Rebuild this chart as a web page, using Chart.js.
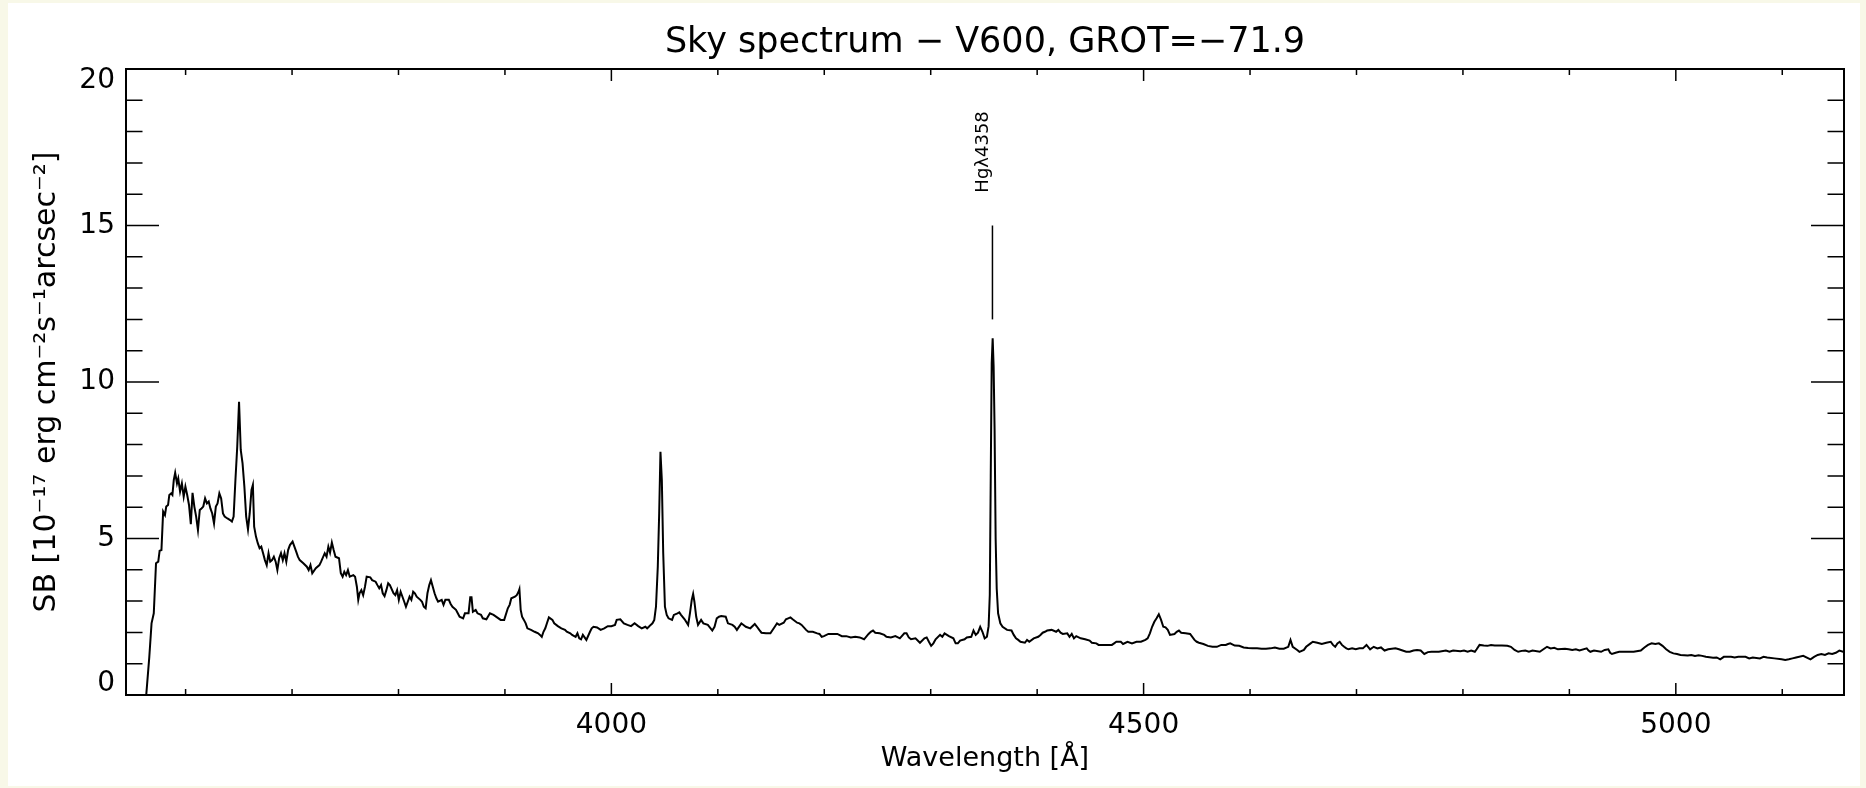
<!DOCTYPE html>
<html><head><meta charset="utf-8">
<script src="https://cdn.jsdelivr.net/npm/chart.js@4.4.1/dist/chart.umd.min.js"></script>
<style>html,body{margin:0;padding:0;background:#f8f8e8;overflow:hidden}canvas{display:block}</style>
</head><body>
<canvas id="c" width="1866" height="788"></canvas>
<script>
// ---- data ----
const wavelength = [
3560,3563.0,3565.9,3568.0,3570.1,3572.2,3574.3,3575.6,3577.3,3578.9,
3580.6,3581.8,3583.5,3584.7,3586.4,3587.6,3588.9,3590.2,3591.9,3593.1,
3594.8,3596.5,3598.2,3599.8,3601.5,3603.2,3604.9,3606.5,3608.2,3609.9,
3611.6,3613.3,3614.9,3616.6,3618.3,3620.0,3621.7,3623.3,3625.0,3626.7,
3628.4,3630.0,3631.7,3633.4,3635.1,3636.7,3639.3,3641.8,3643.5,3645.1,
3646.8,3648.5,3650.2,3651.8,3653.5,3655.2,3656.9,3658.6,3660.2,3661.9,
3663.2,3664.4,3666.1,3667.8,3669.5,3671.1,3672.8,3674.5,3676.2,3677.9,
3679.5,3681.2,3682.9,3684.6,3686.2,3687.9,3689.6,3691.3,3692.9,3694.6,
3696.3,3698.0,3700.5,3702.2,3703.9,3705.5,3707.2,3710.6,3713.9,3715.6,
3717.3,3719.0,3722.3,3725.7,3727.3,3730.7,3732.4,3734.1,3735.7,3737.4,
3739.1,3740.8,3744.1,3745.8,3747.5,3749.1,3750.8,3752.5,3754.2,3757.6,
3759.2,3760.9,3762.2,3763.4,3765.1,3766.8,3768.5,3770.1,3773.5,3775.2,
3778.5,3780.2,3781.9,3783.6,3785.2,3786.9,3788.6,3790.3,3791.9,3795.3,
3797.0,3798.7,3800.3,3802.0,3805.4,3807.0,3808.7,3810.4,3812.1,3813.8,
3815.4,3817.1,3820.5,3822.1,3823.8,3825.5,3827.2,3828.9,3830.5,3832.2,
3833.9,3835.6,3837.2,3840.6,3842.3,3844.0,3847.3,3849.0,3850.7,3854.0,
3855.7,3857.4,3860.7,3862.4,3865.8,3867.4,3868.6,3869.9,3872.5,3874.2,
3877.5,3879.2,3882.6,3885.9,3889.3,3892.6,3896.0,3899.3,3902.7,3904.4,
3906.0,3909.4,3911.1,3912.8,3913.6,3914.8,3916.1,3917.8,3919.5,3921.1,
3924.5,3927.9,3931.2,3932.9,3934.6,3936.2,3937.9,3939.6,3941.3,3944.6,
3946.3,3949.7,3953.0,3956.4,3958.1,3961.4,3963.1,3966.4,3968.1,3969.8,
3971.5,3973.2,3976.5,3979.9,3981.5,3983.2,3986.6,3989.9,3993.3,3996.6,
4000.0,4003.4,4005.0,4008.4,4011.7,4015.1,4018.5,4021.8,4025.2,4028.5,
4031.9,4033.6,4035.2,4036.9,4038.6,4040.3,4041.9,4043.6,4044.9,4046.1,
4047.4,4048.7,4050.3,4052.0,4053.7,4057.0,4058.7,4062.1,4063.8,4065.4,
4068.8,4072.1,4073.8,4075.5,4076.8,4078.0,4079.7,4081.4,4084.3,4086.4,
4090.6,4094.8,4096.9,4099.0,4101.1,4103.2,4107.4,4109.5,4113.7,4115.8,
4117.9,4122.1,4126.3,4130.5,4134.7,4136.8,4138.9,4141.0,4145.2,4149.4,
4153.5,4155.6,4157.7,4161.9,4164.0,4166.1,4168.2,4170.3,4174.5,4176.6,
4178.7,4182.9,4185.0,4189.2,4193.4,4195.5,4197.6,4199.7,4203.9,4208.1,
4212.3,4216.5,4220.7,4224.9,4229.1,4233.3,4237.4,4241.6,4243.7,4245.8,
4247.9,4252.1,4256.3,4258.4,4262.6,4266.8,4271.0,4275.2,4277.3,4279.4,
4281.5,4285.7,4289.9,4294.1,4296.2,4298.3,4300.4,4302.5,4304.6,4308.8,
4310.9,4313.0,4317.1,4321.3,4323.4,4325.5,4327.6,4331.8,4333.9,4338.1,
4340.2,4342.3,4344.4,4346.5,4348.6,4350.7,4352.8,4354.4,4355.5,4356.4,
4357.3,4358.2,4359.1,4360.0,4361.0,4362.0,4363.3,4365.4,4367.5,4371.7,
4375.9,4378.0,4380.1,4382.2,4384.3,4388.5,4390.5,4392.6,4396.8,4401.0,
4403.1,4405.2,4407.3,4409.4,4413.6,4417.8,4419.9,4422.0,4424.1,4428.3,
4430.4,4432.5,4434.6,4436.7,4440.9,4445.1,4449.3,4451.4,4455.6,4457.7,
4461.8,4466.0,4470.2,4472.3,4474.4,4478.6,4480.7,4484.9,4489.1,4493.3,
4497.5,4501.7,4503.8,4505.9,4508.0,4510.1,4512.2,4514.3,4516.4,4518.5,
4520.6,4522.7,4524.8,4529.0,4531.1,4533.2,4535.3,4539.5,4543.7,4547.8,
4549.9,4552.0,4556.2,4560.4,4564.6,4568.8,4573.0,4577.2,4579.3,4581.4,
4585.6,4589.8,4594.0,4598.2,4602.4,4606.6,4610.8,4615.0,4619.2,4623.4,
4627.6,4631.7,4635.9,4638.0,4640.1,4644.3,4646.4,4650.6,4652.7,4656.9,
4659.0,4663.2,4667.4,4671.6,4675.8,4677.9,4680.0,4682.1,4684.2,4686.3,
4688.4,4690.5,4692.5,4695.9,4699.3,4702.7,4706.0,4709.4,4712.8,4716.2,
4719.6,4723.0,4726.4,4729.8,4736.6,4739.9,4743.3,4746.7,4750.1,4753.5,
4756.9,4760.3,4763.7,4767.1,4770.5,4777.3,4784.0,4787.4,4790.8,4797.6,
4801.0,4804.4,4807.8,4811.2,4812.9,4815.6,4819.6,4823.0,4826.4,4829.8,
4836.6,4841.7,4845.1,4848.5,4851.9,4855.3,4858.6,4862.0,4865.4,4872.2,
4875.6,4879.0,4882.4,4885.8,4889.2,4895.9,4899.3,4902.7,4906.1,4909.5,
4916.3,4918.0,4919.7,4923.1,4929.8,4933.2,4936.6,4938.3,4940.0,4943.4,
4946.8,4953.6,4960.4,4967.1,4970.5,4973.9,4977.3,4980.7,4984.1,4987.5,
4990.9,4994.3,4997.7,5001.1,5004.4,5011.2,5014.6,5018.0,5021.4,5024.8,
5028.2,5035.0,5038.4,5041.7,5045.1,5051.9,5055.3,5058.7,5065.5,5068.9,
5072.3,5079.0,5082.4,5085.8,5092.6,5099.4,5102.8,5106.2,5109.6,5113.0,
5119.7,5126.5,5129.9,5133.3,5136.7,5140.1,5143.5,5146.9,5150.3,5153.6,
5157.0,5160.0
];
const surfaceBrightness = [
-1.0,0.0,1.22,2.29,2.61,4.21,4.26,4.61,4.63,5.86,
5.75,6.02,6.07,6.39,6.44,6.39,6.87,7.10,6.76,6.92,
6.50,6.76,6.34,6.66,6.39,6.07,5.46,6.46,6.02,5.70,
5.27,5.91,5.96,6.02,6.28,6.12,6.18,5.96,5.80,5.48,
6.02,6.12,6.44,6.28,5.80,5.70,5.64,5.59,5.54,5.70,
6.87,7.93,9.37,7.83,7.40,6.66,5.70,5.29,5.80,6.55,
6.71,5.38,5.06,4.85,4.69,4.74,4.53,4.31,4.15,4.53,
4.26,4.31,4.42,4.26,3.99,4.37,4.53,4.31,4.53,4.26,
4.63,4.79,4.90,4.74,4.58,4.42,4.31,4.21,4.10,3.99,
4.15,3.89,4.05,4.15,4.26,4.53,4.42,4.74,4.55,4.87,
4.63,4.42,4.37,3.89,3.78,3.94,3.83,3.99,3.78,3.83,
3.78,3.46,3.04,3.25,3.35,3.19,3.46,3.78,3.76,3.67,
3.62,3.51,3.41,3.51,3.25,3.16,3.35,3.57,3.51,3.25,
3.19,3.35,3.04,3.30,2.98,2.82,2.98,3.14,3.04,3.30,
3.25,3.14,3.04,2.98,2.82,2.77,3.25,3.51,3.67,3.46,
3.25,3.09,2.98,3.04,2.88,3.04,3.04,2.91,2.82,2.72,
2.61,2.50,2.45,2.61,2.61,3.12,3.12,2.66,2.72,2.61,
2.56,2.45,2.42,2.61,2.56,2.48,2.40,2.40,2.77,2.88,
3.09,3.14,3.19,3.30,3.38,2.72,2.50,2.40,2.29,2.13,
2.08,2.02,1.97,1.92,1.86,2.02,2.13,2.31,2.48,2.40,
2.29,2.20,2.13,2.08,2.02,1.97,1.92,1.86,1.97,1.81,
1.78,1.92,1.76,2.02,2.13,2.18,2.16,2.08,2.13,2.20,
2.20,2.24,2.40,2.42,2.29,2.24,2.20,2.29,2.20,2.13,
2.18,2.13,2.18,2.24,2.29,2.40,2.82,4.10,5.80,7.77,
6.87,4.53,2.82,2.56,2.45,2.40,2.56,2.61,2.64,2.56,
2.42,2.24,2.61,3.04,3.23,2.98,2.50,2.24,2.40,2.29,
2.24,2.06,2.18,2.45,2.50,2.52,2.50,2.29,2.24,2.18,
2.08,2.29,2.18,2.13,2.27,2.18,2.08,1.99,1.97,1.97,
2.18,2.29,2.24,2.31,2.42,2.45,2.48,2.42,2.31,2.29,
2.24,2.08,2.02,2.02,1.97,1.95,1.86,1.88,1.95,1.95,
1.95,1.88,1.88,1.84,1.86,1.84,1.78,1.95,2.02,2.06,
1.99,1.97,1.92,1.86,1.84,1.88,1.81,1.97,1.97,1.84,
1.78,1.81,1.67,1.81,1.84,1.70,1.57,1.65,1.78,1.92,
1.86,1.97,1.88,1.81,1.65,1.65,1.74,1.78,1.84,1.86,
2.06,1.92,1.99,2.18,2.02,1.81,1.86,2.20,3.20,7.00,
10.60,11.40,10.50,8.50,5.00,3.40,2.61,2.29,2.18,2.08,
2.06,1.92,1.81,1.76,1.70,1.67,1.76,1.70,1.81,1.86,
1.92,1.99,2.02,2.06,2.08,2.02,2.08,1.99,1.95,1.97,
1.86,1.95,1.81,1.88,1.81,1.78,1.74,1.67,1.65,1.60,
1.60,1.60,1.60,1.65,1.70,1.70,1.63,1.70,1.65,1.70,
1.70,1.76,1.81,1.97,2.18,2.34,2.45,2.58,2.40,2.18,
2.16,2.08,1.92,1.95,2.02,2.06,1.99,1.97,1.95,1.76,
1.70,1.67,1.63,1.57,1.54,1.54,1.60,1.60,1.63,1.65,
1.58,1.57,1.52,1.50,1.49,1.49,1.48,1.48,1.49,1.52,
1.48,1.48,1.54,1.76,1.54,1.44,1.38,1.44,1.54,1.65,
1.70,1.67,1.63,1.67,1.70,1.60,1.54,1.65,1.70,1.60,
1.54,1.49,1.46,1.49,1.46,1.49,1.49,1.60,1.46,1.54,
1.49,1.52,1.42,1.46,1.49,1.46,1.42,1.38,1.38,1.42,
1.44,1.42,1.31,1.37,1.38,1.38,1.42,1.38,1.42,1.40,
1.42,1.38,1.42,1.38,1.46,1.60,1.58,1.57,1.60,1.58,
1.58,1.57,1.54,1.44,1.38,1.41,1.42,1.38,1.42,1.38,
1.46,1.54,1.49,1.51,1.46,1.48,1.46,1.44,1.46,1.42,
1.49,1.42,1.38,1.42,1.38,1.44,1.46,1.35,1.31,1.35,
1.38,1.38,1.38,1.42,1.52,1.60,1.65,1.63,1.65,1.57,
1.46,1.38,1.33,1.31,1.28,1.26,1.28,1.25,1.27,1.25,
1.22,1.19,1.20,1.14,1.22,1.22,1.20,1.22,1.22,1.17,
1.20,1.17,1.22,1.20,1.17,1.14,1.12,1.14,1.17,1.20,
1.25,1.14,1.22,1.28,1.31,1.28,1.33,1.31,1.35,1.42,
1.38,1.40
];
// axis ticks
const xMajorTicks = [4000, 4500, 5000];
const xMinorTicks = [3600, 3700, 3800, 3900, 4100, 4200, 4300, 4400, 4600, 4700, 4800, 4900, 5100];
const yMajorTicks = [0, 5, 10, 15, 20];
const yMinorTicks = [1, 2, 3, 4, 6, 7, 8, 9, 11, 12, 13, 14, 16, 17, 18, 19];
// line marker
const markerWavelength = [4358, 4358];
const markerValues = [12, 15];
const markerLabel = 'Hgλ4358';
// texts
const titleText = 'Sky spectrum − V600, GROT=−71.9';
const xTitleText = 'Wavelength [Å]';
const yTitleText = 'SB [10⁻¹⁷ erg cm⁻²s⁻¹arcsec⁻²]';

// ---- presentation ----
const FONT = '"DejaVu Sans", "Liberation Sans", sans-serif';
const X_MIN = 3544, X_MAX = 5158, Y_MIN = 0, Y_MAX = 20;
const LABEL_BASE_VALUE = 16.05;

const spectrum = wavelength.map((w, i) => ({x: w, y: surfaceBrightness[i]}));
const marker = markerWavelength.map((w, i) => ({x: w, y: markerValues[i]}));

const framePlugin = {
  id: 'idlFrame',
  beforeDraw(chart) {
    const {ctx, width, height} = chart;
    ctx.save();
    ctx.fillStyle = '#f8f8e8';
    ctx.fillRect(0, 0, width, height);
    ctx.fillStyle = '#ffffff';
    ctx.fillRect(8, 3, width - 14, height - 5);
    ctx.restore();
  },
  afterDraw(chart) {
    const {ctx, chartArea: a, scales: {x, y}} = chart;
    ctx.save();
    ctx.strokeStyle = '#000';
    ctx.lineWidth = 1.5;
    ctx.beginPath();
    const xt = (vals, len) => vals.forEach(v => {
      const p = x.getPixelForValue(v);
      ctx.moveTo(p, a.bottom); ctx.lineTo(p, a.bottom - len);
      ctx.moveTo(p, a.top); ctx.lineTo(p, a.top + len);
    });
    const yt = (vals, len) => vals.forEach(v => {
      const p = y.getPixelForValue(v);
      ctx.moveTo(a.left, p); ctx.lineTo(a.left + len, p);
      ctx.moveTo(a.right, p); ctx.lineTo(a.right - len, p);
    });
    xt(xMajorTicks, 12); xt(xMinorTicks, 6);
    yt(yMajorTicks, 33); yt(yMinorTicks, 16.5);
    ctx.stroke();
    ctx.lineWidth = 2;
    ctx.strokeRect(a.left, a.top, a.right - a.left, a.bottom - a.top);
    // marker label
    ctx.translate(x.getPixelForValue(markerWavelength[0]) - 4, y.getPixelForValue(LABEL_BASE_VALUE));
    ctx.rotate(-Math.PI / 2);
    ctx.font = '18px ' + FONT;
    ctx.fillStyle = '#000';
    ctx.textAlign = 'left';
    ctx.textBaseline = 'alphabetic';
    ctx.fillText(markerLabel, 0, 0);
    ctx.restore();
  }
};

Chart.defaults.font.family = FONT;
Chart.defaults.color = '#000';

new Chart(document.getElementById('c'), {
  type: 'line',
  data: {
    datasets: [
      {label: 'Sky spectrum', data: spectrum, borderColor: '#000', borderWidth: 2, pointRadius: 0, tension: 0, fill: false},
      {label: markerLabel, data: marker, borderColor: '#000', borderWidth: 1.5, pointRadius: 0, fill: false}
    ]
  },
  options: {
    responsive: false,
    animation: false,
    devicePixelRatio: 1,
    layout: {padding: {left: 0, right: 22, top: 0, bottom: 0}},
    plugins: {
      legend: {display: false},
      tooltip: {enabled: false},
      title: {
        display: true, text: titleText, fullSize: false, color: '#000',
        font: {family: FONT, size: 35, weight: 'normal', lineHeight: 1.2},
        padding: {top: 22, bottom: 5}
      }
    },
    scales: {
      x: {
        type: 'linear', min: X_MIN, max: X_MAX,
        grid: {display: false, drawTicks: false},
        border: {display: false},
        afterBuildTicks: s => { s.ticks = xMajorTicks.map(v => ({value: v})); },
        ticks: {
          autoSkip: false, maxRotation: 0, minRotation: 0,
          color: '#000', font: {family: FONT, size: 28}, padding: 14,
          callback: v => String(v)
        },
        title: {display: true, text: xTitleText, color: '#000', font: {family: FONT, size: 27}, padding: {top: 0, bottom: 13}},
        afterFit: s => { s.height = 93; }
      },
      y: {
        type: 'linear', min: Y_MIN, max: Y_MAX,
        grid: {display: false, drawTicks: false},
        border: {display: false},
        afterBuildTicks: s => { s.ticks = yMajorTicks.map(v => ({value: v})); },
        ticks: {
          autoSkip: false, color: '#000', font: {family: FONT, size: 28, lineHeight: 0.82}, padding: 11,
          callback: v => v === Y_MAX ? ['', String(v)] : (v === Y_MIN ? [String(v), ''] : String(v))
        },
        title: {display: true, text: yTitleText, color: '#000', font: {family: FONT, size: 30}, padding: {top: 29, bottom: 0}},
        afterFit: s => { s.width = 126; }
      }
    }
  },
  plugins: [framePlugin]
});
</script>
</body></html>
